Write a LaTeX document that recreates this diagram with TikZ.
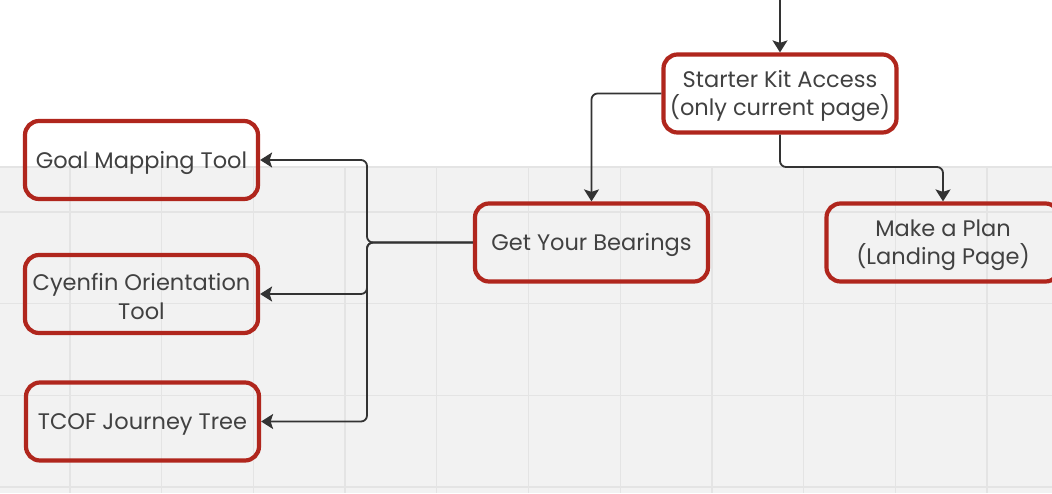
\documentclass[tikz,border=0pt]{standalone}
\usepackage{fontspec}
\setmainfont{Poppins}
\usetikzlibrary{arrows.meta}
\definecolor{bordred}{HTML}{B0261D}
\definecolor{txtc}{HTML}{414141}
\definecolor{gridc}{HTML}{E4E4E4}
\definecolor{bgc}{HTML}{F2F2F2}
\definecolor{linec}{HTML}{333333}
\begin{document}
\begin{tikzpicture}[x=1pt,y=-1pt,
  box/.style={draw=bordred, line width=4.2pt, rounded corners=14pt,
    minimum width=233pt, minimum height=78pt, inner sep=0pt},
  lbl/.style={align=center, text=txtc, inner sep=0pt, yshift=-2.5pt,
    font=\fontsize{22.5}{28.5}\selectfont},
  conn/.style={draw=linec, line width=1.8pt, rounded corners=6pt,
    -{Stealth[length=12pt,width=15pt,inset=2.5pt]}},
  gridline/.style={draw=gridc, line width=1.3pt}]
\useasboundingbox (0,0) rectangle (1052,493);
\fill[white] (0,0) rectangle (1052,493);
\fill[bgc] (0,167) rectangle (1052,493);
\foreach \i in {0,...,10} \draw[gridline] ({70+91.7*\i},167) -- ({70+91.7*\i},493);
\foreach \j in {0,...,3} \draw[gridline] (0,{212+91.7*\j}) -- (1052,{212+91.7*\j});
\draw[gridline] (0,167) -- (1052,167);

\node[box, label={[lbl]center:Starter Kit Access\\(only current page)}] (sk) at (780,93.5) {};
\node[box, label={[lbl]center:Get Your Bearings}] (bear) at (591.5,242.5) {};
\node[box, label={[lbl]center:Make a Plan\\(Landing Page)}] (mp) at (943,242.5) {};
\node[box, label={[lbl]center:Goal Mapping Tool}] (goal) at (141.5,160) {};
\node[box, label={[lbl]center:Cyenfin Orientation\\Tool}] (cyn) at (141.5,294) {};
\node[box, label={[lbl]center:TCOF Journey Tree}] (tcof) at (142.5,421.5) {};

\coordinate (top) at (780,-3);
\coordinate (h1) at (0,167);
\coordinate (j) at (367,242.5);

\draw[conn] (top) -- (sk.north);
\draw[conn] (sk.west) -| (bear.north);
\draw[conn] (sk.south) -- (sk.south |- h1) -| (mp.north);
\draw[conn] (bear.west) -- (j) |- (goal.east);
\draw[conn] (bear.west) -- (j) |- (cyn.east);
\draw[conn] (bear.west) -- (j) |- (tcof.east);
\end{tikzpicture}
\end{document}
